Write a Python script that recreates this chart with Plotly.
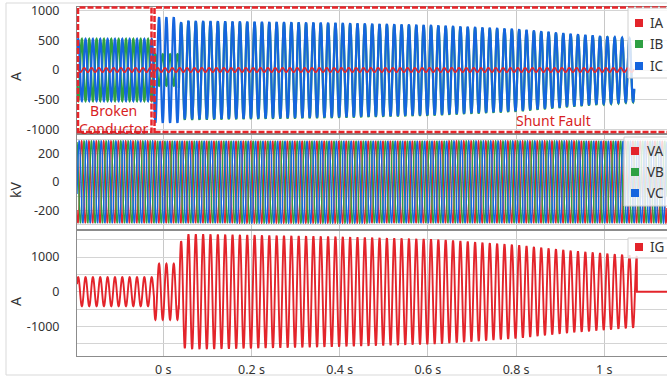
import numpy as np
import plotly.graph_objects as go

# ---------------- data ----------------
F_HZ = 60.0
T_START, T_END = -0.1957, 1.1422
EV_BROKEN_END = -0.021      # end of broken-conductor state (s)
EV_SHUNT = 0.035            # shunt fault inception (s)
EV_IG_TRIP = 1.074          # IG drops to zero
EV_I_END = 1.068            # phase-current record ends
T_PEAK = -0.0263            # a positive peak of IG / IC in the pre-fault state

# phase currents (A)
IC_PRE_AMP, IB_PRE_AMP, IA_AMP = 520, 520, 38
IC_MID_AMP, IB_MID_AMP = 890, 265
IC_ENV_T = [0.035, 0.050, 0.090, 0.385, 0.612, 0.640, 0.800, 0.929, 1.068]
IC_ENV_A = [790, 830, 825, 795, 755, 745, 690, 605, 530]
IB_OFFSET = -12

# voltages (kV)
V_AMP = 288
V_PHASE_DEG = {"VA": 0, "VB": -120, "VC": 120}

# ground current (A)
IG_PRE_AMP, IG_MID_AMP = 420, 810
IG_ENV_T = [0.035, 0.050, 0.090, 0.385, 0.612, 0.640, 0.800, 0.929, 1.074]
IG_ENV_A = [1350, 1660, 1660, 1590, 1513, 1493, 1348, 1175, 1030]

X_TICKS = [0, 0.2, 0.4, 0.6, 0.8, 1.0]
X_TICKTEXT = ["0 s", "0.2 s", "0.4 s", "0.6 s", "0.8 s", "1 s"]
Y1_TICKS = [-1000, -500, 0, 500, 1000]
Y1_TEXT = ["-1000", "-500", "0", "500", "1000"]
Y2_TICKS = [-300, -200, -100, 0, 100, 200, 300]
Y2_TEXT = ["", "-200", "", "0", "", "200", ""]
Y3_TICKS = [-1500, -1000, -500, 0, 500, 1000, 1500]
Y3_TEXT = ["", "-1000", "", "0", "", "1000", ""]

RED, GREEN, BLUE = "#e3242b", "#2ea043", "#1565de"

# ---------------- waveform build ----------------
w = 2 * np.pi * F_HZ
t = np.arange(T_START, T_END + 1e-4, 1 / (F_HZ * 48))
base = np.cos(w * (t - T_PEAK))
pre = t < EV_BROKEN_END
mid = (t >= EV_BROKEN_END) & (t < EV_SHUNT)

ic_amp = np.where(pre, IC_PRE_AMP, np.where(mid, IC_MID_AMP, np.interp(t, IC_ENV_T, IC_ENV_A)))
IC = ic_amp * base
IB = np.where(pre, -IB_PRE_AMP * base, np.where(mid, -IB_MID_AMP * base, IC + IB_OFFSET))
IA = IA_AMP * np.cos(w * (t - T_PEAK) + 1.2)
keep_i = t <= EV_I_END
ti = t[keep_i]

ig_amp = np.where(pre, IG_PRE_AMP, np.where(mid, IG_MID_AMP, np.interp(t, IG_ENV_T, IG_ENV_A)))
IG = np.where(t < EV_IG_TRIP, ig_amp * base, 0.0)

V = {k: V_AMP * np.cos(w * t + np.deg2rad(p) + 0.7) for k, p in V_PHASE_DEG.items()}

fig = go.Figure()
fig.add_trace(go.Scatter(x=ti, y=IB[keep_i], name="IB", line=dict(color=GREEN, width=2.2, simplify=False),
                         xaxis="x", yaxis="y"))
fig.add_trace(go.Scatter(x=ti, y=IC[keep_i], name="IC", line=dict(color=BLUE, width=2.2, simplify=False),
                         xaxis="x", yaxis="y"))
fig.add_trace(go.Scatter(x=ti, y=IA[keep_i], name="IA", line=dict(color=RED, width=1.6, simplify=False),
                         xaxis="x", yaxis="y"))
for k, c in zip(["VA", "VB", "VC"], [RED, GREEN, BLUE]):
    fig.add_trace(go.Scatter(x=t, y=V[k], name=k, line=dict(color=c, width=1.4, simplify=False),
                             xaxis="x2", yaxis="y2"))
fig.add_trace(go.Scatter(x=t, y=IG, name="IG", line=dict(color=RED, width=1.9, simplify=False),
                         xaxis="x3", yaxis="y3"))

# ---------------- layout ----------------
W, H = 667, 381
ML, MR, MT, MB = 77, 0, 7, 25
PW, PH = W - ML - MR, H - MT - MB


def px(x):
    return (x - ML) / PW


def py(y):
    return (H - MB - y) / PH


FONT = "Noto Sans"
grid = "#d4d4d4"
axline = "#8c8c8c"
xcommon = dict(range=[T_START, T_END], tickvals=X_TICKS, ticktext=X_TICKTEXT, showgrid=True,
               gridcolor="#c8c8c8", gridwidth=1, zeroline=False, showline=True, mirror=True,
               linecolor=axline, linewidth=1, ticks="")
ycommon = dict(showgrid=True, gridcolor=grid, gridwidth=1, zeroline=False, showline=True,
               linecolor=axline, linewidth=1, ticks="", ticklabelstandoff=14,
               tickfont=dict(family=FONT, size=12.5, color="#333"))

layout = dict(
    width=W, height=H, margin=dict(l=ML, r=MR, t=MT, b=MB),
    paper_bgcolor="white", plot_bgcolor="white", showlegend=False,
    font=dict(family=FONT, size=12.5, color="#333"),
    xaxis=dict(**xcommon, anchor="y", showticklabels=False),
    xaxis2=dict(**xcommon, anchor="y2", matches="x", showticklabels=False),
    xaxis3=dict(**xcommon, anchor="y3", matches="x", showticklabels=True, ticklabelstandoff=2,
                tickfont=dict(family=FONT, size=12.5, color="#333")),
    yaxis=dict(**ycommon, domain=[py(133), 1.0], range=[-1062, 1062], tickvals=Y1_TICKS, ticktext=Y1_TEXT),
    yaxis2=dict(**ycommon, domain=[py(229), py(135)], range=[-330, 330], tickvals=Y2_TICKS, ticktext=Y2_TEXT),
    yaxis3=dict(**ycommon, domain=[0, py(231)], range=[-1858, 1754], tickvals=Y3_TICKS, ticktext=Y3_TEXT),
)
fig.update_layout(**layout)

shapes = []
# outer container frame
shapes.append(dict(type="rect", xref="paper", yref="paper", x0=px(6), x1=px(720), y0=py(375), y1=py(3),
                   line=dict(color="#d9d9d9", width=1), layer="below"))
# event boxes
DASH_RED = "#e8262b"
shapes.append(dict(type="rect", xref="paper", yref="paper", x0=px(78), x1=px(151.5), y0=py(132), y1=py(7.5),
                   line=dict(color=DASH_RED, width=2.5, dash="6px,2px"), layer="above"))
shapes.append(dict(type="rect", xref="paper", yref="paper", x0=px(154.5), x1=px(680), y0=py(132), y1=py(7.5),
                   line=dict(color=DASH_RED, width=2.5, dash="6px,2px"), layer="above"))

annotations = []
# legends (drawn boxes)
legend_specs = [
    (628, 8, 78, 639, 648, [("IA", RED, 23), ("IB", GREEN, 44), ("IC", BLUE, 66)]),
    (624, 137, 206, 635, 645, [("VA", RED, 151), ("VB", GREEN, 172), ("VC", BLUE, 193)]),
    (628, 238, 258, 639, 648, [("IG", RED, 247)]),
]
for x0, y0, y1, sx, tx, items in legend_specs:
    shapes.append(dict(type="rect", xref="paper", yref="paper", x0=px(x0), x1=px(700), y0=py(y1), y1=py(y0),
                       fillcolor="rgba(255,255,255,0.82)", line=dict(color="#d0d0d0", width=1), layer="above"))
    for name, col, yy in items:
        shapes.append(dict(type="rect", xref="paper", yref="paper", x0=px(sx - 4), x1=px(sx + 4),
                           y0=py(yy + 4), y1=py(yy - 4), fillcolor=col, line=dict(width=0), layer="above"))
        annotations.append(dict(text=name, xref="paper", yref="paper", x=px(tx), y=py(yy), xanchor="left",
                                yanchor="middle", showarrow=False, font=dict(family=FONT, size=13.5, color="#333")))

# axis titles
for label, yy in [("A", 77), ("kV", 190), ("A", 302)]:
    annotations.append(dict(text=label, xref="paper", yref="paper", x=px(15), y=py(yy), xanchor="center",
                            yanchor="middle", textangle=-90, showarrow=False,
                            font=dict(family=FONT, size=14, color="#333")))

# event labels
for text, xx, yy in [("Broken<br>Conductor", 113.5, 119.5), ("Shunt Fault", 553, 120)]:
    annotations.append(dict(text=text, xref="paper", yref="paper", x=px(xx), y=py(yy), xanchor="center",
                            yanchor="middle", showarrow=False, font=dict(family=FONT, size=14, color="#d81e24")))

fig.update_layout(shapes=shapes, annotations=annotations)
fig.write_html("out.html")
